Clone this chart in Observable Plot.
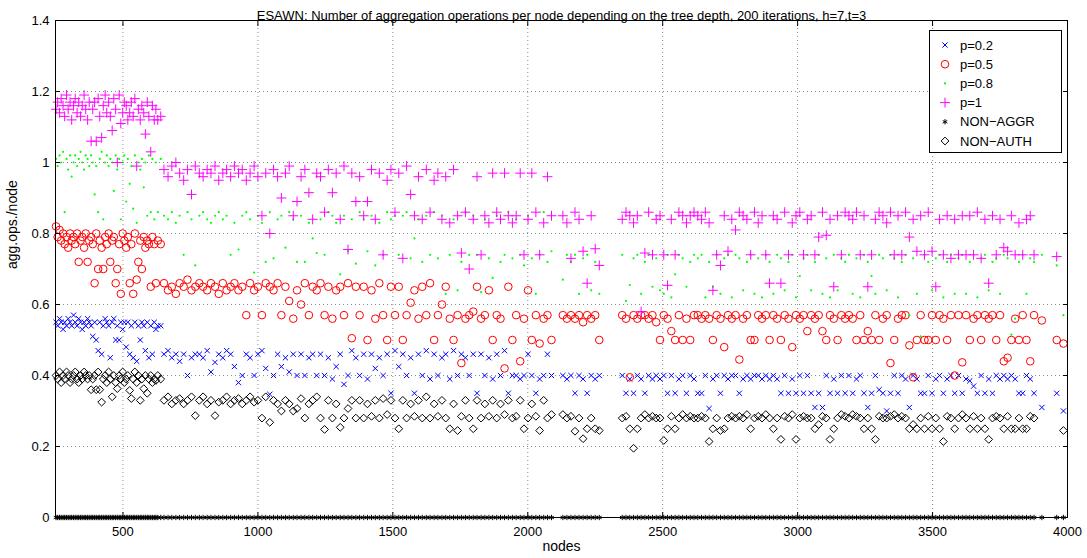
<!DOCTYPE html>
<html>
<head>
<meta charset="utf-8">
<script src="https://cdn.jsdelivr.net/npm/d3@7"></script>
<script src="https://cdn.jsdelivr.net/npm/@observablehq/plot@0.6"></script>
<style>
  html, body { margin: 0; padding: 0; background: #fff; }
  #wrap { position: relative; width: 1087px; height: 558px; font-family: "Liberation Sans", Arial, sans-serif; }
  #legend { position: absolute; left: 929px; top: 30px; width: 133px; height: 123px; background: #fff; border: 1px solid #000; box-sizing: border-box; }
</style>
</head>
<body>
<div id="wrap"><div id="chart"></div><div id="legend"></div></div>
<script>
const title = "ESAWN: Number of aggregation operations per node depending on the tree depth, 200 iterations, h=7,t=3";
const xLabel = "nodes";
const yLabel = "agg.ops./node";
const xTicks = [500, 1000, 1500, 2000, 2500, 3000, 3500, 4000];
const yTicks = [0, 0.2, 0.4, 0.6, 0.8, 1, 1.2, 1.4];
const seriesNames = ["p=0.2", "p=0.5", "p=0.8", "p=1", "NON\u2212AGGR", "NON\u2212AUTH"];

// ---- segment A: small networks ----
const nodesA = [
252,258,265,271,278,284,291,297,304,310,
317,323,330,336,343,349,356,362,369,375,
382,388,395,401,408,414,421,427,434,440,
447,453,460,466,473,479,486,492,499,505,
512,518,525,531,538,544,551,557,564,570,
577,583,590,596,603,609,616,622,629,640];
const p1A = [
1.15,1.17,1.14,1.18,1.16,1.13,1.19,1.15,1.17,1.12,
1.16,1.18,1.14,1.17,1.13,1.16,1.19,1.15,1.12,1.17,
1.06,1.15,1.17,1.06,1.18,1.13,1.07,1.16,1.19,1.14,
1.17,1.13,1.09,1.18,1.15,1.0,1.19,1.11,1.14,1.17,
1.16,1.12,1.14,1.17,1.13,1.18,0.99,1.15,1.12,1.16,
1.14,1.08,1.17,1.13,1.03,1.16,1.12,1.15,1.12,1.13];
const p08A = [
1.01,0.99,1.02,1.0,1.03,0.86,1.01,0.98,1.02,0.96,
1.0,1.02,0.99,1.01,1.03,1.0,0.98,1.02,1.01,0.99,
1.02,1.0,0.91,0.99,0.86,1.01,1.03,0.84,1.0,1.02,
0.99,1.01,1.0,0.92,1.02,0.98,1.01,0.84,1.0,1.02,
0.89,1.01,0.94,0.99,0.87,1.02,0.83,1.0,0.98,1.01,
0.93,1.0,0.85,1.02,0.86,1.01,0.84,1.0,0.86,1.01];
const p05A = [
0.82,0.79,0.81,0.78,0.80,0.77,0.79,0.76,0.80,0.78,
0.79,0.77,0.80,0.72,0.78,0.79,0.76,0.80,0.72,0.78,
0.79,0.77,0.66,0.80,0.70,0.78,0.76,0.70,0.79,0.77,
0.80,0.72,0.78,0.79,0.66,0.70,0.77,0.63,0.80,0.78,
0.76,0.79,0.66,0.77,0.63,0.80,0.67,0.72,0.78,0.70,
0.79,0.76,0.78,0.77,0.65,0.79,0.77,0.66,0.78,0.77];
const p02A = [
0.55,0.54,0.56,0.55,0.53,0.55,0.54,0.56,0.55,0.54,
0.57,0.55,0.54,0.56,0.55,0.53,0.55,0.54,0.56,0.55,
0.54,0.51,0.55,0.50,0.47,0.55,0.46,0.54,0.56,0.55,
0.54,0.45,0.55,0.56,0.50,0.54,0.50,0.55,0.53,0.55,
0.48,0.55,0.46,0.54,0.45,0.55,0.44,0.54,0.50,0.55,
0.54,0.47,0.55,0.45,0.54,0.46,0.55,0.53,0.54,0.54];
const authA = [
0.40,0.39,0.41,0.38,0.40,0.39,0.41,0.40,0.38,0.39,
0.40,0.41,0.39,0.38,0.40,0.39,0.41,0.40,0.39,0.40,
0.36,0.39,0.40,0.36,0.41,0.36,0.325,0.39,0.40,0.38,
0.41,0.39,0.34,0.40,0.38,0.363,0.40,0.39,0.41,0.38,
0.39,0.40,0.358,0.335,0.39,0.41,0.38,0.40,0.33,0.39,
0.363,0.40,0.35,0.39,0.40,0.38,0.39,0.386,0.40,0.39];

// ---- segment B: medium networks ----
const nodesB = [
652,667,681,696,710,725,739,754,768,783,
797,812,826,841,855,870,884,899,913,928,
942,957,971,986,1000,1015,1029,1044,1058,1073,
1087,1102,1116,1131,1145,1160,1174,1189,1203,1218,
1232,1247,1261,1276,1290,1305,1319,1334,1348,1363,
1377,1392,1406,1421,1435,1450,1464,1479,1493,1508,
1522,1537,1551,1566,1580,1595,1609,1624,1638,1653,
1667,1682,1696,1711,1725,1740,1754,1769,1783,1798,
1812,1827,1841,1856,1870,1885,1899,1914,1928,1943,
1957,1972,1986,2001,2015,2030,2044,2059,2073,2088];
const p1B = [
0.98,0.96,0.99,1.0,0.97,0.95,0.98,0.91,0.99,0.97,
0.96,0.98,0.97,0.99,0.95,0.97,0.98,0.96,0.99,0.97,
0.98,0.95,0.97,0.99,0.96,0.85,0.97,0.80,0.98,0.96,
0.90,0.97,0.99,0.85,0.89,0.96,0.98,0.915,0.84,0.97,
0.96,0.86,0.98,0.915,0.97,0.84,0.99,0.755,0.97,0.89,
0.96,0.85,0.89,0.98,0.84,0.97,0.74,0.95,0.98,0.86,
0.97,0.73,0.99,0.91,0.85,0.96,0.84,0.98,0.86,0.95,
0.97,0.84,0.96,0.83,0.98,0.85,0.745,0.86,0.70,0.84,
0.96,0.74,0.85,0.83,0.97,0.86,0.84,0.97,0.85,0.83,
0.85,0.97,0.74,0.84,0.97,0.86,0.74,0.83,0.96,0.85];
const p08B = [
0.85,0.84,0.86,0.83,0.85,0.74,0.86,0.84,0.71,0.85,
0.86,0.84,0.83,0.85,0.86,0.84,0.85,0.74,0.83,0.755,
0.85,0.86,0.84,0.69,0.85,0.83,0.72,0.86,0.73,0.84,
0.85,0.76,0.86,0.84,0.72,0.85,0.72,0.83,0.786,0.745,
0.84,0.74,0.86,0.85,0.83,0.685,0.85,0.75,0.84,0.715,
0.86,0.84,0.75,0.85,0.71,0.83,0.74,0.86,0.84,0.85,
0.74,0.85,0.86,0.73,0.786,0.84,0.72,0.85,0.74,0.86,
0.73,0.85,0.63,0.74,0.84,0.64,0.72,0.86,0.74,0.85,
0.74,0.635,0.84,0.73,0.675,0.85,0.72,0.74,0.86,0.73,
0.84,0.74,0.71,0.85,0.73,0.63,0.74,0.86,0.72,0.75];
const p05B = [
0.66,0.64,0.65,0.63,0.66,0.65,0.67,0.64,0.65,0.66,
0.65,0.64,0.66,0.65,0.63,0.66,0.64,0.65,0.66,0.64,
0.65,0.57,0.66,0.64,0.65,0.57,0.66,0.65,0.64,0.66,
0.57,0.65,0.61,0.56,0.64,0.60,0.66,0.57,0.65,0.64,
0.66,0.57,0.65,0.56,0.64,0.65,0.57,0.66,0.505,0.65,
0.57,0.65,0.50,0.64,0.56,0.66,0.57,0.50,0.65,0.57,
0.65,0.50,0.57,0.605,0.64,0.56,0.65,0.57,0.66,0.50,
0.57,0.60,0.65,0.56,0.50,0.57,0.435,0.56,0.57,0.58,
0.65,0.56,0.57,0.64,0.50,0.57,0.56,0.42,0.65,0.50,
0.57,0.44,0.56,0.64,0.50,0.57,0.49,0.56,0.57,0.50];
const p02B = [
0.46,0.47,0.45,0.46,0.44,0.46,0.40,0.45,0.46,0.46,
0.45,0.47,0.41,0.437,0.46,0.45,0.47,0.46,0.425,0.38,
0.40,0.46,0.45,0.40,0.46,0.47,0.42,0.347,0.40,0.46,
0.425,0.45,0.41,0.46,0.40,0.46,0.40,0.45,0.46,0.40,
0.46,0.40,0.45,0.39,0.425,0.46,0.375,0.40,0.47,0.45,
0.40,0.46,0.39,0.46,0.42,0.45,0.40,0.46,0.35,0.47,
0.425,0.46,0.40,0.45,0.35,0.46,0.40,0.47,0.39,0.46,
0.40,0.45,0.46,0.39,0.47,0.40,0.46,0.45,0.40,0.46,
0.35,0.46,0.40,0.45,0.39,0.46,0.40,0.47,0.35,0.40,
0.40,0.39,0.40,0.46,0.40,0.35,0.39,0.40,0.46,0.40];
const authB = [
0.33,0.34,0.32,0.33,0.335,0.32,0.33,0.34,0.287,0.33,
0.34,0.32,0.33,0.287,0.325,0.33,0.34,0.32,0.33,0.335,
0.32,0.33,0.34,0.325,0.33,0.28,0.34,0.268,0.33,0.32,
0.30,0.33,0.32,0.30,0.307,0.335,0.28,0.32,0.33,0.34,
0.28,0.248,0.33,0.28,0.32,0.254,0.28,0.307,0.33,0.28,
0.33,0.28,0.32,0.285,0.33,0.28,0.335,0.29,0.33,0.28,
0.25,0.33,0.28,0.32,0.285,0.33,0.28,0.34,0.28,0.32,
0.285,0.33,0.28,0.25,0.32,0.245,0.285,0.33,0.28,0.25,
0.33,0.28,0.32,0.285,0.33,0.28,0.32,0.29,0.33,0.28,
0.285,0.33,0.25,0.28,0.32,0.285,0.245,0.33,0.28,0.29];

// ---- segment C: large networks ----
const nodesC = [
2130,2145,2160,2175,2190,2205,2220,2235,2250,2265,
2350,2364,2378,2392,2406,2420,2434,2448,2462,2476,
2490,2504,2518,2532,2546,2560,2574,2588,2602,2616,
2630,2644,2658,2672,2686,2700,2714,2728,2742,2756,
2770,2784,2798,2812,2826,2840,2854,2868,2882,2896,
2910,2924,2938,2952,2966,2980,2994,3008,3022,3036,
3050,3064,3078,3092,3106,3120,3134,3148,3162,3176,
3190,3204,3218,3232,3246,3260,3274,3288,3302,3316,
3330,3344,3358,3372,3386,3400,3414,3428,3442,3456,
3470,3484,3498,3512,3526,3540,3554,3568,3582,3596,
3610,3624,3638,3652,3666,3680,3694,3708,3722,3736,
3750,3764,3778,3792,3806,3820,3834,3848,3862,3876,
3905,3960,3985];
const p1C = [
0.85,0.83,0.73,0.86,0.84,0.75,0.66,0.85,0.757,0.71,
0.84,0.86,0.85,0.83,0.85,0.58,0.745,0.86,0.74,0.84,
0.85,0.74,0.654,0.84,0.74,0.86,0.85,0.83,0.85,0.86,
0.85,0.84,0.86,0.83,0.64,0.74,0.71,0.85,0.75,0.84,
0.81,0.86,0.85,0.84,0.74,0.86,0.83,0.85,0.74,0.66,
0.85,0.84,0.66,0.86,0.74,0.83,0.85,0.86,0.74,0.84,
0.85,0.74,0.79,0.86,0.795,0.84,0.65,0.85,0.74,0.86,
0.85,0.84,0.86,0.74,0.85,0.65,0.74,0.84,0.86,0.85,
0.83,0.86,0.74,0.85,0.74,0.86,0.79,0.84,0.75,0.85,
0.74,0.86,0.75,0.65,0.84,0.74,0.85,0.73,0.84,0.74,
0.85,0.74,0.85,0.74,0.86,0.73,0.84,0.66,0.85,0.74,
0.84,0.76,0.75,0.85,0.74,0.83,0.74,0.84,0.85,0.74,
null,0.735,null];
const p08C = [
0.67,0.74,0.72,0.74,0.63,0.73,0.74,0.64,0.72,0.63,
0.74,0.61,0.655,0.73,0.74,0.63,0.72,0.74,0.65,0.73,
0.64,0.63,0.74,0.62,0.685,0.74,0.73,0.65,0.72,0.74,
0.73,0.74,0.62,0.72,0.65,0.74,0.63,0.73,0.74,0.62,
0.74,0.73,0.64,0.72,0.74,0.63,0.73,0.62,0.74,0.72,
0.63,0.74,0.73,0.64,0.72,0.74,0.62,0.68,0.73,0.74,
0.64,0.72,0.74,0.63,0.73,0.62,0.74,0.64,0.73,0.72,
0.74,0.63,0.73,0.62,0.74,0.72,0.68,0.63,0.74,0.73,
0.64,0.74,0.73,0.62,0.72,0.74,0.57,0.73,0.63,0.51,
0.74,0.72,0.64,0.73,0.74,0.62,0.72,0.74,0.63,0.73,
0.74,0.63,0.72,0.74,0.62,0.73,0.74,0.64,0.72,0.73,
0.63,0.74,0.73,0.515,0.56,0.72,0.74,0.63,0.73,0.72,
0.74,0.71,0.57];
const p05C = [
0.57,0.56,0.57,0.56,0.57,0.55,0.57,0.56,0.57,0.50,
0.57,0.56,0.395,0.57,0.56,0.57,0.57,0.56,0.57,0.55,
0.50,0.57,0.56,0.525,0.50,0.57,0.50,0.56,0.50,0.57,
0.57,0.56,0.57,0.56,0.50,0.57,0.56,0.48,0.57,0.56,
0.57,0.445,0.56,0.57,0.50,0.50,0.57,0.56,0.57,0.50,
0.57,0.56,0.50,0.57,0.56,0.48,0.57,0.56,0.57,0.525,
0.57,0.56,0.57,0.525,0.50,0.57,0.56,0.50,0.57,0.56,
0.57,0.56,0.50,0.57,0.50,0.525,0.50,0.57,0.50,0.56,
0.57,0.435,0.50,0.56,0.57,0.57,0.485,0.395,0.50,0.57,
0.50,0.50,0.57,0.50,0.57,0.56,0.50,0.57,0.40,0.57,
0.437,0.57,0.50,0.56,0.57,0.50,0.57,0.56,0.57,0.50,
0.57,0.44,0.45,0.50,0.56,0.50,0.57,0.50,0.44,0.57,
0.555,0.50,0.49];
const p02C = [
0.40,0.39,0.40,0.35,0.40,0.39,0.35,0.40,0.39,0.40,
0.40,0.35,0.39,0.35,0.40,0.39,0.35,0.40,0.39,0.40,
0.39,0.40,0.35,0.40,0.35,0.39,0.40,0.35,0.40,0.39,
0.35,0.35,0.40,0.307,0.39,0.40,0.35,0.40,0.39,0.40,
0.40,0.35,0.39,0.40,0.39,0.40,0.40,0.39,0.40,0.39,
0.40,0.39,0.35,0.40,0.35,0.39,0.35,0.40,0.35,0.40,
0.35,0.31,0.35,0.31,0.40,0.35,0.39,0.35,0.40,0.35,
0.40,0.35,0.39,0.40,0.35,0.31,0.35,0.40,0.36,0.35,
0.30,0.35,0.40,0.35,0.40,0.39,0.31,0.40,0.39,0.35,
0.35,0.40,0.35,0.39,0.40,0.35,0.39,0.40,0.35,0.40,
0.35,0.39,0.385,0.37,0.35,0.40,0.35,0.39,0.35,0.40,
0.39,0.40,0.39,0.40,0.39,0.35,0.35,0.40,0.39,0.35,
0.31,0.35,0.30];
const authC = [
0.29,0.28,0.285,0.243,0.28,0.222,0.25,0.28,0.25,0.245,
0.28,0.285,0.25,0.195,0.25,0.28,0.29,0.28,0.285,0.28,
0.28,0.217,0.25,0.285,0.25,0.28,0.29,0.28,0.285,0.28,
0.28,0.285,0.28,0.214,0.25,0.28,0.245,0.25,0.28,0.285,
0.28,0.285,0.28,0.29,0.25,0.28,0.285,0.28,0.29,0.28,
0.25,0.28,0.22,0.285,0.28,0.29,0.22,0.28,0.285,0.28,
0.28,0.25,0.262,0.285,0.28,0.22,0.25,0.28,0.29,0.285,
0.28,0.29,0.285,0.28,0.25,0.28,0.25,0.22,0.285,0.28,
0.28,0.285,0.29,0.28,0.285,0.28,0.25,0.262,0.25,0.28,
0.25,0.285,0.25,0.28,0.25,0.214,0.285,0.28,0.25,0.28,
0.29,0.28,0.25,0.285,0.25,0.28,0.25,0.22,0.28,0.285,
0.28,0.25,0.285,0.25,0.25,0.28,0.25,0.25,0.285,0.28,
null,null,0.245];
// NON-AGGR: every node reads exactly 0 aggregation operations
const nonAggrValue = 0;

function build(xs, ys) {
  const n = Math.min(xs.length, ys.length);
  const out = [];
  for (let i = 0; i < n; i++) if (ys[i] != null) out.push({x: xs[i], y: ys[i]});
  return out;
}
const allNodes = nodesA.concat(nodesB, nodesC);
const d02 = build(nodesA, p02A).concat(build(nodesB, p02B), build(nodesC, p02C));
const d05 = build(nodesA, p05A).concat(build(nodesB, p05B), build(nodesC, p05C));
const d08 = build(nodesA, p08A).concat(build(nodesB, p08B), build(nodesC, p08C));
const d1 = build(nodesA, p1A).concat(build(nodesB, p1B), build(nodesC, p1C));
const dAggr = allNodes.map(x => ({x, y: nonAggrValue}));
const dAuth = build(nodesA, authA).concat(build(nodesB, authB), build(nodesC, authC));

const styles = [
  {symbol: "times", r: 2.5, stroke: "#0000ff", fill: "none"},
  {symbol: "circle", r: 3.8, stroke: "#ff0000", fill: "none"},
  {symbol: "circle", r: 1.1, stroke: "none", fill: "#00ff00"},
  {symbol: "plus", r: 3.3, stroke: "#ff00ff", fill: "none"},
  {symbol: "asterisk", r: 2.5, stroke: "#000000", fill: "none"},
  {symbol: "diamond2", r: 3.5, stroke: "#000000", fill: "none"}
];
const datasets = [d02, d05, d08, d1, dAggr, dAuth];

const grid = {stroke: "#8c8c8c", strokeOpacity: 1, strokeDasharray: "1,3", strokeWidth: 1};
const fmtY = d => String(+d.toFixed(1));
const fmtX = d => String(d);

const chart = Plot.plot({
  width: 1087, height: 558,
  marginLeft: 55, marginRight: 20, marginTop: 20, marginBottom: 41,
  style: {fontFamily: "'Liberation Sans', Arial, sans-serif", fontSize: "13px", color: "#000", background: "#fff", overflow: "visible"},
  x: {domain: [250, 4000]},
  y: {domain: [0, 1.4]},
  marks: [
    Plot.gridX(xTicks, grid),
    Plot.gridY(yTicks, grid),
    ...datasets.map((d, i) => Plot.dot(d, {
      x: "x", y: "y",
      symbol: styles[i].symbol, r: styles[i].r,
      stroke: styles[i].stroke, fill: styles[i].fill, strokeWidth: 1
    })),
    Plot.frame({stroke: "#000", strokeWidth: 1}),
    Plot.axisX(xTicks, {anchor: "bottom", tickSize: 0, tickPadding: 9, tickFormat: fmtX, label: null, fontSize: 13}),
    Plot.axisX(xTicks, {anchor: "bottom", tickSize: -5, tickFormat: () => "", label: null}),
    Plot.axisX(xTicks, {anchor: "top", tickSize: -5, tickFormat: () => "", label: null}),
    Plot.axisY(yTicks, {anchor: "left", tickSize: 0, tickPadding: 6, tickFormat: fmtY, label: null, fontSize: 13}),
    Plot.axisY(yTicks, {anchor: "left", tickSize: -5, tickFormat: () => "", label: null}),
    Plot.axisY(yTicks, {anchor: "right", tickSize: -5, tickFormat: () => "", label: null}),
    Plot.text([title], {text: d => d, frameAnchor: "top", dy: -10, fontSize: 13}),
    Plot.text([xLabel], {text: d => d, frameAnchor: "bottom", dy: 33, fontSize: 14}),
    Plot.text([yLabel], {text: d => d, frameAnchor: "left", dx: -43, rotate: -90, fontSize: 14})
  ]
});
document.getElementById("chart").appendChild(chart);

// legend
const symbolMap = {times: d3.symbolTimes, circle: d3.symbolCircle, plus: d3.symbolPlus, asterisk: d3.symbolAsterisk, diamond2: d3.symbolDiamond2};
const lg = d3.select("#legend").append("svg").attr("width", 131).attr("height", 121)
  .style("font-family", "'Liberation Sans', Arial, sans-serif").style("font-size", "13px");
seriesNames.forEach((name, i) => {
  const s = styles[i];
  const cy = 14 + i * 19.2;
  lg.append("path")
    .attr("d", d3.symbol(symbolMap[s.symbol], s.r * s.r * Math.PI)())
    .attr("transform", `translate(15,${cy})`)
    .attr("stroke", s.stroke).attr("fill", s.fill).attr("stroke-width", 1);
  lg.append("text").attr("x", 30).attr("y", cy).attr("dy", "0.35em").attr("fill", "#000").text(name);
});
</script>
</body>
</html>
